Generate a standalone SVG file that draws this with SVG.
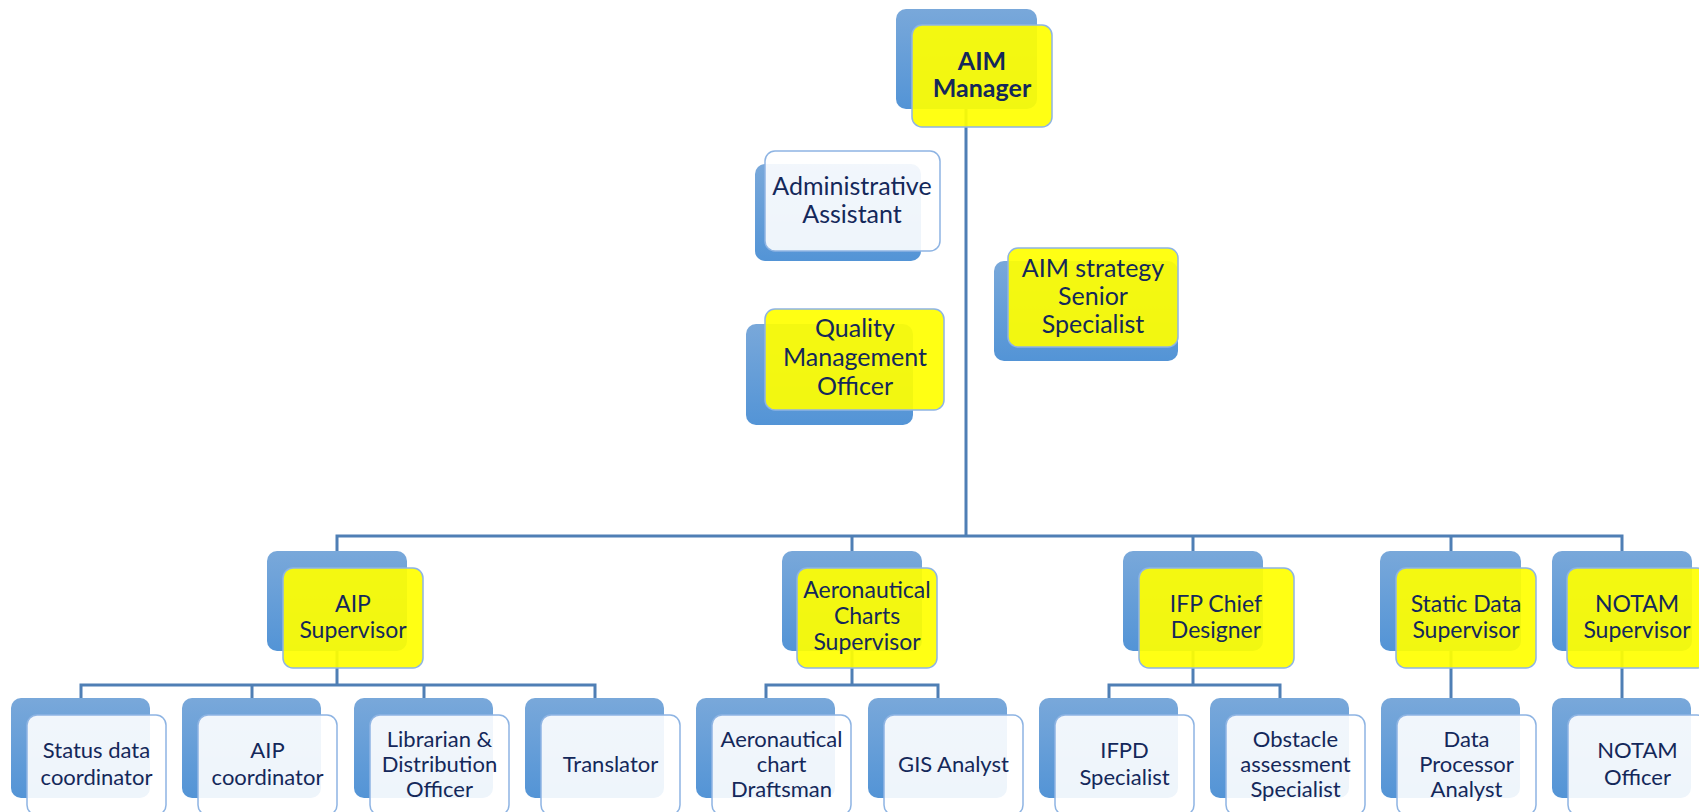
<svg xmlns="http://www.w3.org/2000/svg" width="1699" height="812" viewBox="0 0 1699 812">
<defs>
<linearGradient id="bg" x1="0" y1="0" x2="0" y2="1">
<stop offset="0" stop-color="#79a8da"/>
<stop offset="1" stop-color="#5394d6"/>
</linearGradient>
<style>
.back{fill:url(#bg);}
.fy{fill:#ffff00;fill-opacity:0.92;stroke:#8eb4e3;stroke-width:1.5;}
.fw{fill:#ffffff;fill-opacity:0.9;stroke:#8eb4e3;stroke-width:1.5;}
.conn{fill:none;stroke:#4f7fb5;stroke-width:3;stroke-linejoin:miter;}
text{font-family:Lato,"Liberation Sans",sans-serif;fill:#14285a;text-anchor:middle;}
.t1{font-size:25px;}
.t2{font-size:23px;}
.t3{font-size:22px;}
.b{font-weight:bold;font-size:25px;}
</style>
</defs>
<rect width="1699" height="812" fill="#ffffff"/>
<g id="connectors" class="conn">
<path d="M966 60 V536"/>
<path d="M337 560 V536 H1622 V560"/>
<path d="M852 536 V560"/>
<path d="M1193 536 V560"/>
<path d="M1451 536 V560"/>
<path d="M337 600 V685"/>
<path d="M81 710 V685 H595 V710"/>
<path d="M252 685 V710"/>
<path d="M424 685 V710"/>
<path d="M852 600 V685"/>
<path d="M766 710 V685 H938 V710"/>
<path d="M1193 600 V685"/>
<path d="M1109 710 V685 H1280 V710"/>
<path d="M1451 600 V710"/>
<path d="M1622 600 V710"/>
</g>
<g id="aim-manager">
<rect class="back" x="896" y="9" width="141" height="100" rx="10"/>
<rect class="fy" x="912" y="25" width="140" height="102" rx="10"/>
<text class="b" x="982" y="70">AIM</text>
<text class="b" x="982" y="97">Manager</text>
</g>
<g id="admin-assistant">
<rect class="back" x="755" y="164" width="166" height="97" rx="10"/>
<rect class="fw" x="765" y="151" width="175" height="100" rx="10"/>
<text class="t1" x="852" y="195">Administrative</text>
<text class="t1" x="852" y="223">Assistant</text>
</g>
<g id="quality-officer">
<rect class="back" x="746" y="324" width="167" height="101" rx="10"/>
<rect class="fy" x="765" y="309" width="179" height="101" rx="10"/>
<text class="t1" x="855" y="337">Quality</text>
<text class="t1" x="855" y="366">Management</text>
<text class="t1" x="855" y="395">Officer</text>
</g>
<g id="aim-strategy">
<rect class="back" x="994" y="261" width="184" height="100" rx="10"/>
<rect class="fy" x="1008" y="248" width="170" height="99" rx="10"/>
<text class="t1" x="1093" y="277">AIM strategy</text>
<text class="t1" x="1093" y="305">Senior</text>
<text class="t1" x="1093" y="333">Specialist</text>
</g>
<g id="aip-supervisor">
<rect class="back" x="267" y="551" width="140" height="100" rx="10"/>
<rect class="fy" x="283" y="568" width="140" height="100" rx="10"/>
<text class="t2" x="353" y="612">AIP</text>
<text class="t2" x="353" y="638">Supervisor</text>
</g>
<g id="charts-supervisor">
<rect class="back" x="782" y="551" width="140" height="100" rx="10"/>
<rect class="fy" x="797" y="568" width="140" height="100" rx="10"/>
<text class="t2" x="867" y="598">Aeronautical</text>
<text class="t2" x="867" y="624">Charts</text>
<text class="t2" x="867" y="650">Supervisor</text>
</g>
<g id="ifp-chief">
<rect class="back" x="1123" y="551" width="140" height="100" rx="10"/>
<rect class="fy" x="1139" y="568" width="155" height="100" rx="10"/>
<text class="t2" x="1216" y="612">IFP Chief</text>
<text class="t2" x="1216" y="638">Designer</text>
</g>
<g id="static-supervisor">
<rect class="back" x="1380" y="551" width="141" height="100" rx="10"/>
<rect class="fy" x="1396" y="568" width="140" height="100" rx="10"/>
<text class="t2" x="1466" y="612">Static Data</text>
<text class="t2" x="1466" y="638">Supervisor</text>
</g>
<g id="notam-supervisor">
<rect class="back" x="1552" y="551" width="140" height="100" rx="10"/>
<rect class="fy" x="1567" y="568" width="140" height="100" rx="10"/>
<text class="t2" x="1637" y="612">NOTAM</text>
<text class="t2" x="1637" y="638">Supervisor</text>
</g>
<g id="status-coordinator">
<rect class="back" x="11" y="698" width="139" height="100" rx="10"/>
<rect class="fw" x="27" y="715" width="139" height="100" rx="10"/>
<text class="t3" x="96.5" y="758">Status data</text>
<text class="t3" x="96.5" y="785">coordinator</text>
</g>
<g id="aip-coordinator">
<rect class="back" x="182" y="698" width="139" height="100" rx="10"/>
<rect class="fw" x="198" y="715" width="139" height="100" rx="10"/>
<text class="t3" x="267.5" y="758">AIP</text>
<text class="t3" x="267.5" y="785">coordinator</text>
</g>
<g id="librarian">
<rect class="back" x="354" y="698" width="139" height="100" rx="10"/>
<rect class="fw" x="370" y="715" width="139" height="100" rx="10"/>
<text class="t3" x="439.5" y="747">Librarian &amp;</text>
<text class="t3" x="439.5" y="772">Distribution</text>
<text class="t3" x="439.5" y="797">Officer</text>
</g>
<g id="translator">
<rect class="back" x="525" y="698" width="139" height="100" rx="10"/>
<rect class="fw" x="541" y="715" width="139" height="100" rx="10"/>
<text class="t3" x="610.5" y="772">Translator</text>
</g>
<g id="draftsman">
<rect class="back" x="696" y="698" width="139" height="100" rx="10"/>
<rect class="fw" x="712" y="715" width="139" height="100" rx="10"/>
<text class="t3" x="781.5" y="747">Aeronautical</text>
<text class="t3" x="781.5" y="772">chart</text>
<text class="t3" x="781.5" y="797">Draftsman</text>
</g>
<g id="gis-analyst">
<rect class="back" x="868" y="698" width="139" height="100" rx="10"/>
<rect class="fw" x="884" y="715" width="139" height="100" rx="10"/>
<text class="t3" x="953.5" y="772">GIS Analyst</text>
</g>
<g id="ifpd-specialist">
<rect class="back" x="1039" y="698" width="139" height="100" rx="10"/>
<rect class="fw" x="1055" y="715" width="139" height="100" rx="10"/>
<text class="t3" x="1124.5" y="758">IFPD</text>
<text class="t3" x="1124.5" y="785">Specialist</text>
</g>
<g id="obstacle-specialist">
<rect class="back" x="1210" y="698" width="139" height="100" rx="10"/>
<rect class="fw" x="1226" y="715" width="139" height="100" rx="10"/>
<text class="t3" x="1295.5" y="747">Obstacle</text>
<text class="t3" x="1295.5" y="772">assessment</text>
<text class="t3" x="1295.5" y="797">Specialist</text>
</g>
<g id="data-processor">
<rect class="back" x="1381" y="698" width="139" height="100" rx="10"/>
<rect class="fw" x="1397" y="715" width="139" height="100" rx="10"/>
<text class="t3" x="1466.5" y="747">Data</text>
<text class="t3" x="1466.5" y="772">Processor</text>
<text class="t3" x="1466.5" y="797">Analyst</text>
</g>
<g id="notam-officer">
<rect class="back" x="1552" y="698" width="139" height="100" rx="10"/>
<rect class="fw" x="1568" y="715" width="139" height="100" rx="10"/>
<text class="t3" x="1637.5" y="758">NOTAM</text>
<text class="t3" x="1637.5" y="785">Officer</text>
</g>
</svg>
